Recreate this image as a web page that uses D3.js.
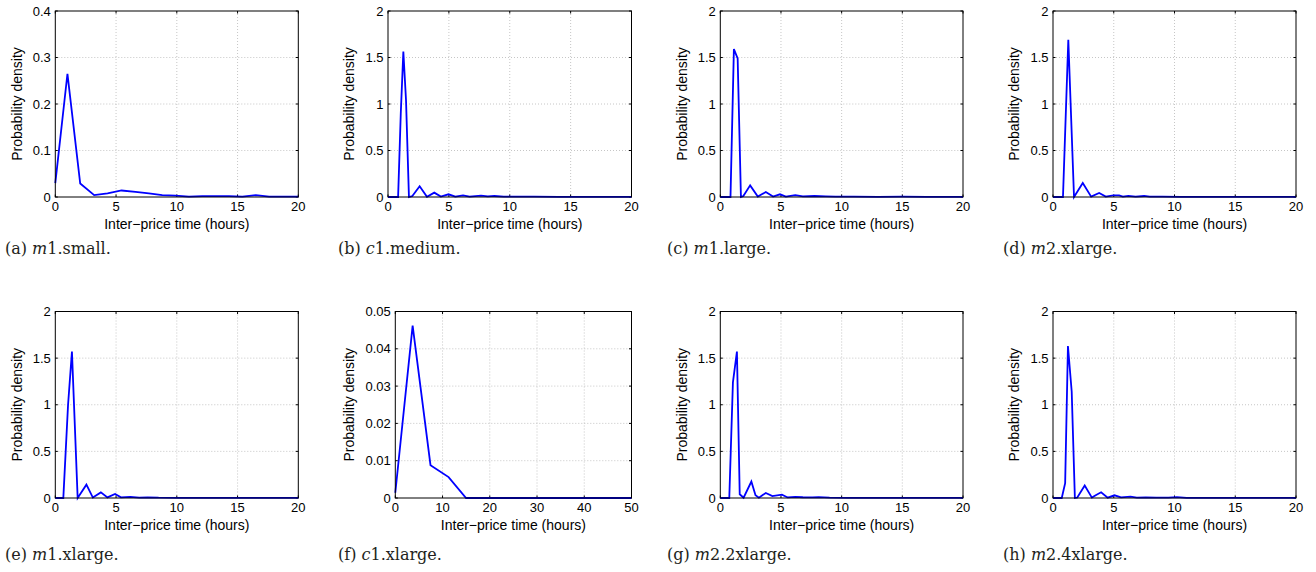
<!DOCTYPE html>
<html>
<head>
<meta charset="utf-8">
<script src="https://cdn.jsdelivr.net/npm/d3@7"></script>
<style>
  html, body { margin: 0; padding: 0; background: #fff; }
  svg { display: block; }
  .tick-label { font-family: "Liberation Sans", Arial, sans-serif; font-size: 13px; fill: #000; }
  .axis-title { font-family: "Liberation Sans", Arial, sans-serif; font-size: 14px; fill: #000; }
  .caption { font-family: "DejaVu Serif", "Liberation Serif", serif; font-size: 16px; fill: #231f20; }
</style>
</head>
<body>
<svg id="chart" width="1316" height="572"></svg>
<script>
// ---------------- DATA ----------------
const panelLetters = ["a", "b", "c", "d", "e", "f", "g", "h"];
const captionItalic = ["m", "c", "m", "m", "m", "c", "m", "m"];
const captionRest = ["1.small.", "1.medium.", "1.large.", "2.xlarge.", "1.xlarge.", "1.xlarge.", "2.2xlarge.", "2.4xlarge."];
const xLabel = "Inter\u2212price time (hours)";
const yLabel = "Probability density";

const xMaxes = [20, 20, 20, 20, 20, 50, 20, 20];
const yMaxes = [0.4, 2, 2, 2, 2, 0.05, 2, 2];

const xTicks20 = [0, 5, 10, 15, 20];
const xTicks50 = [0, 10, 20, 30, 40, 50];
const yTicksA = [0, 0.1, 0.2, 0.3, 0.4];
const yTicks2 = [0, 0.5, 1, 1.5, 2];
const yTicksF = [0, 0.01, 0.02, 0.03, 0.04, 0.05];
const yTickLabelsA = ["0", "0.1", "0.2", "0.3", "0.4"];
const yTickLabels2 = ["0", "0.5", "1", "1.5", "2"];
const yTickLabelsF = ["0", "0.01", "0.02", "0.03", "0.04", "0.05"];

// (a) m1.small
const aX = [0, 1.0, 2.05, 3.2, 4.3, 5.45, 6.6, 7.7, 8.8, 9.9, 11.0, 12.1, 13.2, 14.3, 15.4, 16.5, 17.6, 18.7, 19.8, 20];
const aY = [0.03, 0.265, 0.029, 0.004, 0.008, 0.014, 0.011, 0.008, 0.004, 0.003, 0.001, 0.002, 0.002, 0.002, 0.001, 0.004, 0.001, 0.001, 0.001, 0.001];
// (b) c1.medium
const bX = [0, 0.83, 1.05, 1.26, 1.48, 1.72, 2.0, 2.6, 3.2, 3.8, 4.34, 4.97, 5.53, 6.16, 6.7, 7.64, 8.2, 8.74, 9.5, 10.5, 12, 14, 16, 18, 20];
const bY = [0, 0, 0.9, 1.563, 1.04, 0, 0.01, 0.115, 0.003, 0.047, 0.004, 0.029, 0.004, 0.018, 0.005, 0.014, 0.006, 0.011, 0.005, 0.004, 0.003, 0.002, 0.002, 0.001, 0.001];
// (c) m1.large
const cX = [0, 0.84, 1.12, 1.43, 1.7, 1.9, 2.46, 3.09, 3.75, 4.35, 4.92, 5.4, 6.18, 6.8, 7.76, 8.7, 9.5, 11, 13, 15, 17, 20];
const cY = [0, 0, 1.59, 1.49, 0, 0.01, 0.125, 0.004, 0.054, 0.004, 0.029, 0.005, 0.021, 0.006, 0.011, 0.007, 0.004, 0.003, 0.002, 0.003, 0.001, 0.001];
// (d) m2.xlarge
const dX = [0, 0.82, 1.26, 1.73, 2.45, 3.14, 3.8, 4.34, 4.97, 5.44, 5.75, 6.2, 6.8, 7.5, 7.96, 9, 10.5, 12, 14, 16, 18, 20];
const dY = [0, 0, 1.69, 0, 0.15, 0.004, 0.043, 0.004, 0.018, 0.018, 0.004, 0.011, 0.005, 0.011, 0.003, 0.003, 0.002, 0.002, 0.001, 0.002, 0.001, 0.001];
// (e) m1.xlarge
const eX = [0, 0.66, 1.05, 1.37, 1.84, 2.56, 3.09, 3.75, 4.29, 4.92, 5.4, 6.18, 6.9, 7.6, 8.5, 10, 12, 14, 16, 18, 20];
const eY = [0, 0, 1.0, 1.57, 0, 0.143, 0.005, 0.06, 0.007, 0.043, 0.007, 0.011, 0.004, 0.007, 0.003, 0.002, 0.002, 0.001, 0.001, 0.001, 0.001];
// (f) c1.xlarge
const fX = [0, 3.67, 7.45, 11.28, 14.98, 18.75, 22.5, 26.25, 30, 33.75, 37.5, 41.25, 45, 48.75, 50];
const fY = [0.0014, 0.0462, 0.0088, 0.0056, 0, 0, 0, 0, 0, 0, 0, 0, 0, 0, 0];
// (g) m2.2xlarge
const gX = [0, 0.74, 1.04, 1.37, 1.6, 1.92, 2.56, 2.9, 3.18, 3.75, 4.29, 5.08, 5.55, 6.18, 6.8, 7.6, 8.1, 9, 10.5, 12, 14, 16, 18, 20];
const gY = [0, 0, 1.24, 1.57, 0.04, 0.003, 0.176, 0.03, 0.004, 0.054, 0.021, 0.036, 0.006, 0.011, 0.008, 0.007, 0.01, 0.004, 0.002, 0.002, 0.001, 0.001, 0.001, 0.001];
// (h) m2.4xlarge
const hX = [0, 0.72, 1.0, 1.23, 1.54, 1.8, 2.0, 2.61, 3.2, 3.55, 3.96, 4.5, 5.06, 5.6, 6.38, 6.9, 7.64, 8.5, 9.5, 10.2, 11, 13, 15, 17, 20];
const hY = [0, 0, 0.16, 1.63, 1.14, 0, 0.005, 0.133, 0.004, 0.032, 0.061, 0.004, 0.029, 0.006, 0.014, 0.004, 0.007, 0.003, 0.004, 0.009, 0.002, 0.002, 0.001, 0.001, 0.001];

const seriesX = [aX, bX, cX, dX, eX, fX, gX, hX];
const seriesY = [aY, bY, cY, dY, eY, fY, gY, hY];

// ---------------- LAYOUT ----------------
const boxes = [
  { l: 55.3, r: 298.3, t: 11, b: 197, cx: 5, cy: 254 },
  { l: 388, r: 631.5, t: 11, b: 197, cx: 338, cy: 254 },
  { l: 720.3, r: 963, t: 11, b: 197, cx: 667, cy: 254 },
  { l: 1053, r: 1296, t: 11, b: 197, cx: 1003, cy: 254 },
  { l: 55.3, r: 298.3, t: 311.5, b: 498, cx: 5, cy: 560 },
  { l: 395.3, r: 631.5, t: 311.5, b: 498, cx: 338, cy: 560 },
  { l: 720.3, r: 963, t: 311.5, b: 498, cx: 667, cy: 560 },
  { l: 1053, r: 1296, t: 311.5, b: 498, cx: 1003, cy: 560 }
];

const svg = d3.select("#chart");

boxes.forEach((bx, i) => {
  const xMax = xMaxes[i], yMax = yMaxes[i];
  const xTicks = xMax === 50 ? xTicks50 : xTicks20;
  const yTicks = i === 0 ? yTicksA : (i === 5 ? yTicksF : yTicks2);
  const yTickLabels = i === 0 ? yTickLabelsA : (i === 5 ? yTickLabelsF : yTickLabels2);

  const x = d3.scaleLinear().domain([0, xMax]).range([bx.l, bx.r]);
  const y = d3.scaleLinear().domain([0, yMax]).range([bx.b, bx.t]);

  const g = svg.append("g");

  // grid
  g.selectAll(null).data(xTicks.slice(1, -1)).enter().append("line")
    .attr("x1", d => x(d)).attr("x2", d => x(d))
    .attr("y1", bx.t).attr("y2", bx.b)
    .attr("stroke", "#b8b8b8").attr("stroke-width", 0.8).attr("stroke-dasharray", "1,2");
  g.selectAll(null).data(yTicks.slice(1, -1)).enter().append("line")
    .attr("x1", bx.l).attr("x2", bx.r)
    .attr("y1", d => y(d)).attr("y2", d => y(d))
    .attr("stroke", "#b8b8b8").attr("stroke-width", 0.8).attr("stroke-dasharray", "1,2");

  // inward tick marks (all four sides)
  const tl = 2.5;
  xTicks.forEach(d => {
    g.append("line").attr("x1", x(d)).attr("x2", x(d)).attr("y1", bx.b).attr("y2", bx.b - tl).attr("stroke", "#000");
    g.append("line").attr("x1", x(d)).attr("x2", x(d)).attr("y1", bx.t).attr("y2", bx.t + tl).attr("stroke", "#000");
  });
  yTicks.forEach(d => {
    g.append("line").attr("x1", bx.l).attr("x2", bx.l + tl).attr("y1", y(d)).attr("y2", y(d)).attr("stroke", "#000");
    g.append("line").attr("x1", bx.r).attr("x2", bx.r - tl).attr("y1", y(d)).attr("y2", y(d)).attr("stroke", "#000");
  });

  // data line
  const pts = seriesX[i].map((v, k) => [v, seriesY[i][k]]);
  const line = d3.line().x(d => x(d[0])).y(d => y(d[1]));
  g.append("path").datum(pts)
    .attr("d", line)
    .attr("fill", "none")
    .attr("stroke", "#0000ff")
    .attr("stroke-width", 1.8)
    .attr("stroke-linejoin", "miter");

  // box
  g.append("rect")
    .attr("x", bx.l).attr("y", bx.t)
    .attr("width", bx.r - bx.l).attr("height", bx.b - bx.t)
    .attr("fill", "none").attr("stroke", "#000").attr("stroke-width", 1);

  // tick labels
  g.selectAll(null).data(xTicks).enter().append("text")
    .attr("class", "tick-label")
    .attr("x", d => x(d)).attr("y", bx.b + 14)
    .attr("text-anchor", "middle")
    .text(d => String(d));

  let maxW = 0;
  yTicks.forEach((d, k) => {
    const t = g.append("text")
      .attr("class", "tick-label")
      .attr("x", bx.l - 4.5).attr("y", y(d) + 4.6)
      .attr("text-anchor", "end")
      .text(yTickLabels[k]);
    maxW = Math.max(maxW, t.node().getComputedTextLength());
  });

  // axis titles
  g.append("text")
    .attr("class", "axis-title")
    .attr("x", (bx.l + bx.r) / 2).attr("y", bx.b + 32)
    .attr("text-anchor", "middle")
    .text(xLabel);

  const ylx = bx.l - 4.5 - maxW - 11;
  g.append("text")
    .attr("class", "axis-title")
    .attr("transform", `translate(${ylx},${(bx.t + bx.b) / 2}) rotate(-90)`)
    .attr("text-anchor", "middle")
    .text(yLabel);

  // caption
  const cap = g.append("text").attr("class", "caption").attr("x", bx.cx).attr("y", bx.cy);
  cap.append("tspan").text(`(${panelLetters[i]}) `);
  cap.append("tspan").attr("font-style", "italic").text(captionItalic[i]);
  cap.append("tspan").text(captionRest[i]);
});
</script>
</body>
</html>
